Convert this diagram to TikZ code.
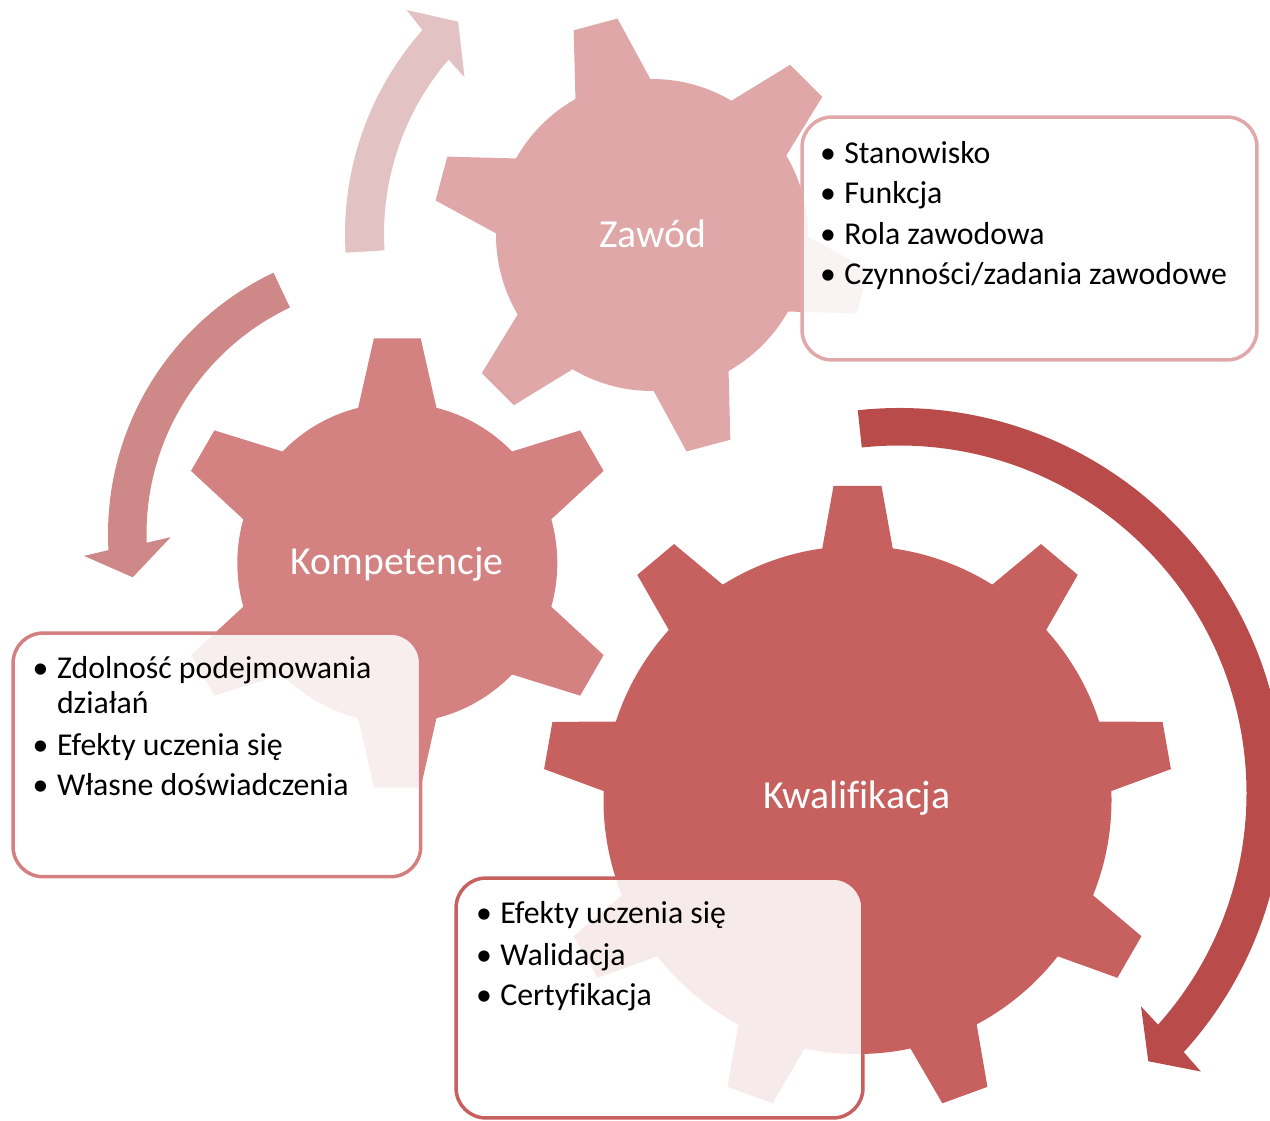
\documentclass[tikz,border=0pt]{standalone}
\usepackage{fontspec}
\setmainfont[Ligatures={NoCommon}]{Carlito}
\usetikzlibrary{calc}
\definecolor{gearS}{RGB}{223,167,167}
\definecolor{gearM}{RGB}{212,129,129}
\definecolor{gearL}{RGB}{199,97,96}
\definecolor{arrT}{RGB}{227,194,195}
\definecolor{arrLf}{RGB}{205,136,135}
\definecolor{arrR}{RGB}{185,76,74}
\definecolor{bordS}{RGB}{224,168,168}
\definecolor{bordM}{RGB}{212,128,128}
\definecolor{bordL}{RGB}{200,96,96}
% #1 centre, #2 teeth, #3 first angle, #4 body r, #5 tip r, #6 tip half width, #7 inner r, #8 inner half width, #9 colour
\newcommand{\drawgear}[9]{%
  \fill[#9] (#1) circle[radius=#4];
  \foreach \kk in {1,...,#2}{%
    \pgfmathsetmacro{\gearang}{#3+360*(\kk-1)/#2}
    \fill[#9] ($(#1)+(\gearang:#5)+(\gearang+90:#6)$) -- ($(#1)+(\gearang:#5)+(\gearang-90:#6)$)
      -- ($(#1)+(\gearang:#7)+(\gearang-90:#8)$) -- ($(#1)+(\gearang:#7)+(\gearang+90:#8)$) -- cycle;
  }%
}
\newcommand{\itembul}{\llap{\makebox[18.7pt][c]{•}}}
\begin{document}
\begin{tikzpicture}[x=0.02cm, y=0.02cm,
  boxbase/.style={draw, line width=2pt, fill=white, fill opacity=0.87, rounded corners=0.6cm, inner sep=0pt},
  item/.style={anchor=base west, inner sep=0pt, font=\fontsize{18.1}{21}\selectfont, text=black},
  lbl/.style={anchor=base, inner sep=0pt, font=\fontsize{22.6}{26}\selectfont, text=white}]
\useasboundingbox (0,0) rectangle (1270,1120);
\clip (0,0) rectangle (1270,1120);

% centres
\coordinate (gS) at (652,885);
\coordinate (gM) at (397.3,557);
\coordinate (gL) at (857.5,320);
\coordinate (aT) at (652,886);
\coordinate (aLf) at (397,586);
\coordinate (aR) at (899,327);

% gears
\drawgear{gS}{6}{105}{156}{218}{22.7}{136}{42.4}{gearS}
\drawgear{gM}{6}{90}{160}{224.7}{23.4}{140}{42.6}{gearM}
\drawgear{gL}{9}{90}{254}{314}{24}{234}{38.4}{gearL}

% circular arrows
\fill[arrT] ($(aT)+(183.5:307)$) arc[start angle=183.5, end angle=138.4, radius=307]
  -- ($(aT)+(137.6:332.2)$) -- ($(aT)+(132.4:287.5)$) -- ($(aT)+(140.1:244.4)$)
  -- ($(aT)+(139.4:268)$) arc[start angle=139.4, end angle=183.5, radius=268] -- cycle;
\fill[arrLf] ($(aLf)+(115.3:289)$) arc[start angle=115.3, end angle=183.2, radius=289]
  -- ($(aLf)+(184:313.8)$) -- ($(aLf)+(189.3:267.8)$) -- ($(aLf)+(180.8:226.3)$)
  -- ($(aLf)+(182:250.5)$) arc[start angle=182, end angle=115.3, radius=250.5] -- cycle;
\fill[arrR] ($(aR)+(96.15:385)$) arc[start angle=96.15, end angle=-42.3, radius=385]
  -- ($(aR)+(-42.7:410.7)$) -- ($(aR)+(-47.1:366.2)$) -- ($(aR)+(-41.4:322.6)$)
  -- ($(aR)+(-41.8:347.5)$) arc[start angle=-41.8, end angle=96.15, radius=347.5] -- cycle;

% gear labels
\node[lbl] (lZ) at (653,872) {Zawód};
\node[lbl] (lK) at (397,546) {Kompetencje};
\node[lbl] (lQ) at (857,312) {Kwalifikacja};

% text boxes
\node[boxbase, draw=bordS, minimum width=9.1cm, minimum height=4.86cm] (bS) at (1029.5,881.5) {};
\node[boxbase, draw=bordM, minimum width=8.154cm, minimum height=4.874cm] (bM) at (216.9,365.1) {};
\node[boxbase, draw=bordL, minimum width=8.14cm, minimum height=4.8cm] (bL) at (659.5,122) {};

% box texts
\node[item] (s1) at (844,956.7) {\itembul Stanowisko};
\node[item] (s2) at (844,916.7) {\itembul Funkcja};
\node[item] (s3) at (844,875) {\itembul Rola zawodowa};
\node[item] (s4) at (844,835) {\itembul Czynności/zadania zawodowe};

\node[item] (m1) at (56.7,441.7) {\itembul Zdolność podejmowania};
\node[item] (m1b) at (56.7,406.7) {działań};
\node[item] (m2) at (56.7,365) {\itembul Efekty uczenia się};
\node[item] (m3) at (56.7,325) {\itembul Własne doświadczenia};

\node[item] (q1) at (500,196.7) {\itembul Efekty uczenia się};
\node[item] (q2) at (500,155) {\itembul Walidacja};
\node[item] (q3) at (500,115) {\itembul Certyfikacja};
\end{tikzpicture}
\end{document}
